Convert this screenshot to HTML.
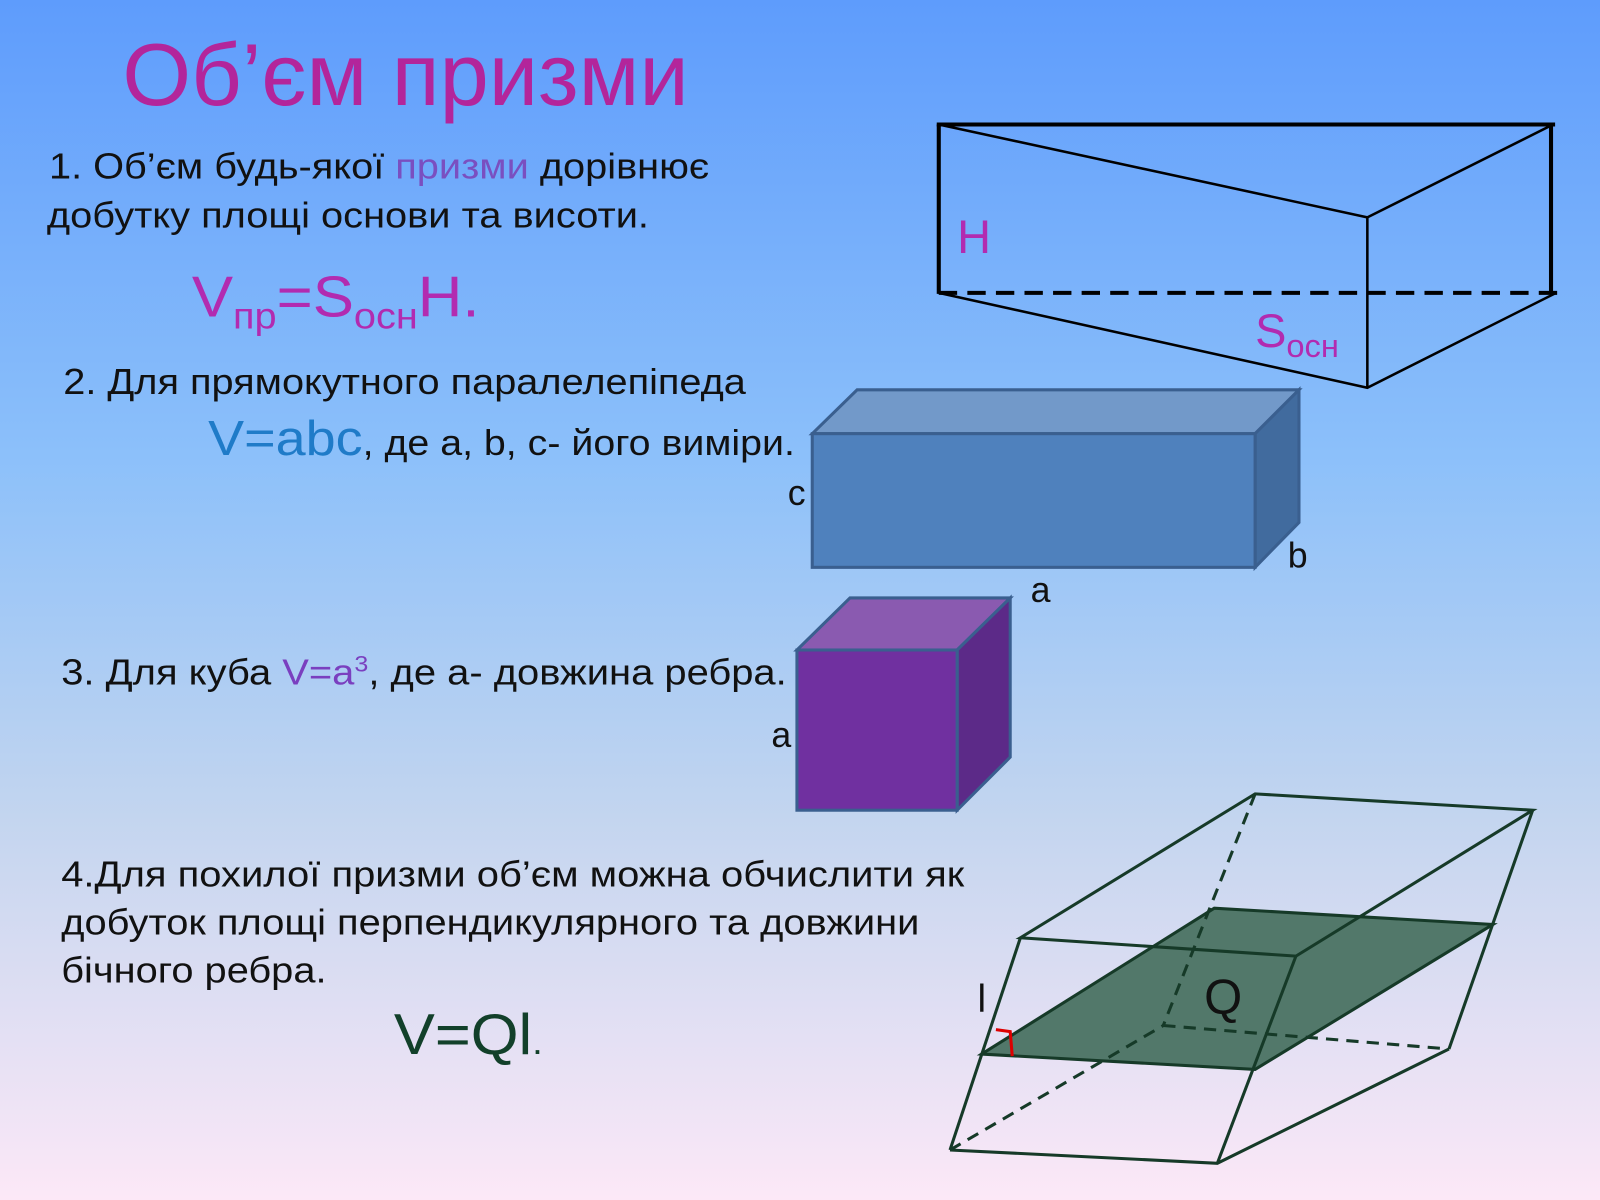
<!DOCTYPE html>
<html><head><meta charset="utf-8"><style>
html,body{margin:0;padding:0;width:1600px;height:1200px;overflow:hidden}
svg{display:block}
text{font-family:"Liberation Sans",sans-serif}
</style></head><body>
<svg width="1600" height="1200" viewBox="0 0 1568 1176" preserveAspectRatio="none" xmlns="http://www.w3.org/2000/svg">
<defs><linearGradient id="bg" x1="0" y1="0" x2="0" y2="1">
<stop offset="0" stop-color="#5e9cfc"/><stop offset="0.38" stop-color="#8cc0fa"/><stop offset="0.68" stop-color="#c3d5ef"/><stop offset="1" stop-color="#fce8f7"/></linearGradient></defs>
<rect width="1568" height="1176" fill="url(#bg)"/>
<text x="120" y="103" font-size="86" fill="#b3259b" textLength="555" lengthAdjust="spacingAndGlyphs">Об’єм призми</text>
<text x="48" y="175" font-size="35" fill="#111" textLength="647" lengthAdjust="spacingAndGlyphs">1. Об’єм будь-якої <tspan fill="#7a4fc0">призми</tspan> дорівнює</text>
<text x="46" y="223" font-size="35" fill="#111" textLength="590" lengthAdjust="spacingAndGlyphs">добутку площі основи та висоти.</text>
<text x="188" y="310" font-size="56" fill="#b22bb0" textLength="282" lengthAdjust="spacingAndGlyphs">V<tspan font-size="36" dy="12">пр</tspan><tspan dy="-12">=S</tspan><tspan font-size="36" dy="12">осн</tspan><tspan dy="-12">H.</tspan></text>
<text x="62" y="386" font-size="35" fill="#111" textLength="669" lengthAdjust="spacingAndGlyphs">2. Для прямокутного паралелепіпеда</text>
<text x="204" y="446" font-size="48" fill="#1f7bc8" textLength="575" lengthAdjust="spacingAndGlyphs">V=abc<tspan font-size="35" fill="#111">, де a, b, c- його виміри.</tspan></text>
<text x="60" y="671" font-size="35" fill="#111" textLength="711" lengthAdjust="spacingAndGlyphs">3. Для куба <tspan fill="#7a3fbf">V=a<tspan font-size="22" dy="-13">3</tspan></tspan><tspan dy="13">, де a- довжина ребра.</tspan></text>
<text x="60" y="869" font-size="35" fill="#111" textLength="885" lengthAdjust="spacingAndGlyphs">4.Для похилої призми об’єм можна обчислити як</text>
<text x="60" y="916" font-size="35" fill="#111" textLength="841" lengthAdjust="spacingAndGlyphs">добуток площі перпендикулярного та довжини</text>
<text x="60" y="963" font-size="35" fill="#111" textLength="260" lengthAdjust="spacingAndGlyphs">бічного ребра.</text>
<text x="386" y="1033" font-size="56" fill="#12402a" textLength="146" lengthAdjust="spacingAndGlyphs">V=Ql<tspan font-size="35">.</tspan></text>
<g stroke="#000" fill="none">
<line x1="918" y1="122" x2="1524" y2="122" stroke-width="4"/>
<line x1="920" y1="122" x2="920" y2="288" stroke-width="4"/>
<line x1="1520" y1="122" x2="1520" y2="288" stroke-width="4"/>
<line x1="920" y1="122" x2="1340" y2="213" stroke-width="2.5"/>
<line x1="1340" y1="213" x2="1522" y2="122" stroke-width="2.5"/>
<line x1="1340" y1="213" x2="1340" y2="380" stroke-width="2.5"/>
<polyline points="920,287 1340,380 1525,287" stroke-width="2.5"/>
<line x1="920" y1="287" x2="1526" y2="287" stroke-width="4" stroke-dasharray="18,10"/>
</g>
<text x="938" y="248" font-size="46" fill="#b22bb0">H</text>
<text x="1230" y="340" font-size="46" fill="#b22bb0">S<tspan font-size="32" dy="10">осн</tspan></text>
<g stroke="#3a5f8f" stroke-width="3">
<polygon points="796,425 840,382 1273,382 1230,425" fill="#7299c9"/>
<polygon points="1230,425 1273,382 1273,512 1230,556" fill="#416b9e"/>
<rect x="796" y="425" width="434" height="131" fill="#4f81bd"/>
</g>
<text x="772" y="495" font-size="35" fill="#111">c</text>
<text x="1262" y="556" font-size="35" fill="#111">b</text>
<text x="1010" y="590" font-size="35" fill="#111">a</text>
<g stroke="#3a5f8f" stroke-width="3">
<polygon points="781,637 833,586 990,586 938,637" fill="#8a5ab0"/>
<polygon points="938,637 990,586 990,742 938,794" fill="#5c2a88"/>
<rect x="781" y="637" width="157" height="157" fill="#7030a0"/>
</g>
<text x="756" y="732" font-size="35" fill="#111">a</text>
<polygon points="962,1033 1190,890 1463,906 1230,1048" fill="#52786a"/>
<g stroke="#163a28" stroke-width="3" fill="none">
<polygon points="1000,919 1230,778 1502,794 1270,937"/>
<polygon points="962,1033 1190,890 1463,906 1230,1048"/>
<polyline points="931,1127 1193,1140 1420,1028"/>
<line x1="1000" y1="919" x2="931" y2="1127"/>
<line x1="1270" y1="937" x2="1193" y2="1140"/>
<line x1="1502" y1="794" x2="1420" y2="1028"/>
<g stroke-dasharray="12,8">
<line x1="1230" y1="778" x2="1140" y2="1005"/>
<line x1="931" y1="1127" x2="1140" y2="1005"/>
<line x1="1140" y1="1005" x2="1420" y2="1028"/>
</g>
</g>
<polyline points="976,1009 990,1011 992,1035" stroke="#d00" stroke-width="3" fill="none"/>
<text x="958" y="992" font-size="38" fill="#111">l</text>
<text x="1180" y="993" font-size="48" fill="#111">Q</text>
</svg>
</body></html>
